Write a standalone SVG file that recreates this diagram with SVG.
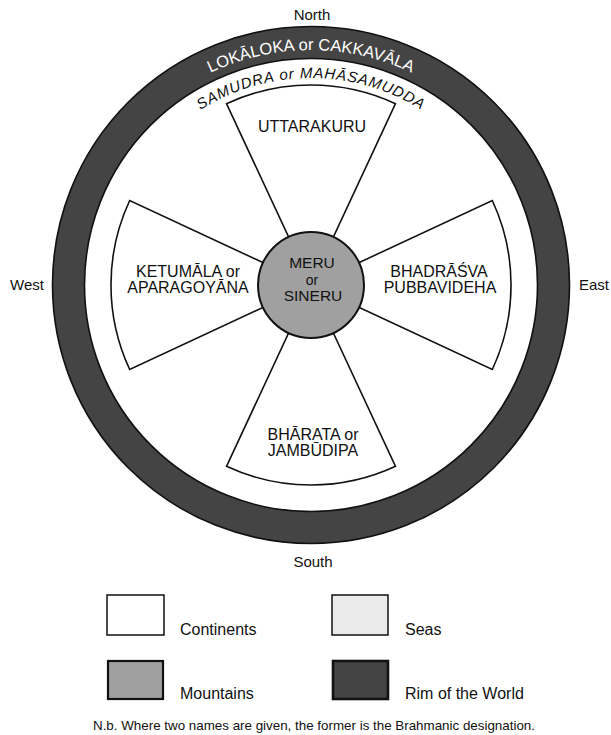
<svg xmlns="http://www.w3.org/2000/svg" width="611" height="735" viewBox="0 0 611 735">
<defs>
<style>
text{font-family:"Liberation Sans",Arial,sans-serif;fill:#111}
.lbl{font-size:16px;text-anchor:middle}
.cmp{font-size:15px}
.leg{font-size:16px}
.cont{fill:#fff;stroke:#111;stroke-width:1.6;stroke-linejoin:miter}
.edge{fill:none;stroke:#111;stroke-width:1.6}
</style>
<path id="rimArc" d="M76,285 A235,235 0 0 1 546,285"/>
<path id="seaArc" d="M104,285 A207,207 0 0 1 518,285"/>
</defs>
<rect width="611" height="735" fill="#fff"/>

<g id="rim">
<circle cx="311" cy="285" r="242.5" fill="none" stroke="#444" stroke-width="32"/>
<circle class="edge" cx="311" cy="285" r="258.5"/>
<circle class="edge" cx="311" cy="285" r="226.5"/>
<text font-size="16.5" style="fill:#fff" text-anchor="middle"><textPath href="#rimArc" startOffset="50%">LOKĀLOKA or CAKKAVĀLA</textPath></text>
</g>

<g id="sea">
<text font-size="15" font-style="italic" letter-spacing="0.85" text-anchor="middle"><textPath href="#seaArc" startOffset="50%">SAMUDRA or MAHĀSAMUDDA</textPath></text>
</g>

<g id="uttarakuru">
<path class="cont" d="M311,285 L226.5,103.7 A200,200 0 0 1 395.5,103.7 Z"/>
<text class="lbl" x="312" y="132">UTTARAKURU</text>
</g>

<g id="bhadrasva">
<path class="cont" d="M311,285 L492.3,200.5 A200,200 0 0 1 492.3,369.5 Z"/>
<text class="lbl" x="439" y="277">BHADRĀŚVA</text>
<text class="lbl" x="440" y="293">PUBBAVIDEHA</text>
</g>

<g id="bharata">
<path class="cont" d="M311,285 L395.5,466.3 A200,200 0 0 1 226.5,466.3 Z"/>
<text class="lbl" x="313" y="440">BHĀRATA or</text>
<text class="lbl" x="313" y="456">JAMBŪDIPA</text>
</g>

<g id="ketumala">
<path class="cont" d="M311,285 L129.7,369.5 A200,200 0 0 1 129.7,200.5 Z"/>
<text class="lbl" x="188" y="277">KETUMĀLA or</text>
<text class="lbl" x="188" y="293">APARAGOYĀNA</text>
</g>

<g id="meru">
<circle cx="311" cy="285" r="53" fill="#a0a0a0" stroke="#111" stroke-width="2"/>
<text class="lbl" x="312" y="268" style="font-size:15.5px">MERU</text>
<text class="lbl" x="312" y="285" style="font-size:14px">or</text>
<text class="lbl" x="313" y="301" style="font-size:15.5px">SINERU</text>
</g>

<g id="compass">
<text class="cmp" x="312" y="20" text-anchor="middle">North</text>
<text class="cmp" x="313" y="567" text-anchor="middle">South</text>
<text class="cmp" x="10" y="290">West</text>
<text class="cmp" x="579" y="290">East</text>
</g>

<g id="legend-continents">
<rect x="107" y="595" width="57" height="40" fill="#fff" stroke="#111" stroke-width="1.5"/>
<text class="leg" x="180" y="635">Continents</text>
</g>
<g id="legend-seas">
<rect x="332" y="595" width="56" height="40" fill="#ebebeb" stroke="#111" stroke-width="1.5"/>
<text class="leg" x="405" y="635">Seas</text>
</g>
<g id="legend-mountains">
<rect x="108" y="661" width="55" height="38" fill="#a0a0a0" stroke="#111" stroke-width="2.2"/>
<text class="leg" x="180" y="699">Mountains</text>
</g>
<g id="legend-rim">
<rect x="333" y="661" width="55" height="38" fill="#444" stroke="#111" stroke-width="2.6"/>
<text class="leg" x="405" y="699">Rim of the World</text>
</g>

<g id="note">
<text x="93" y="730" font-size="13" textLength="442" lengthAdjust="spacingAndGlyphs">N.b.  Where two names are given, the former is the Brahmanic designation.</text>
</g>
</svg>
